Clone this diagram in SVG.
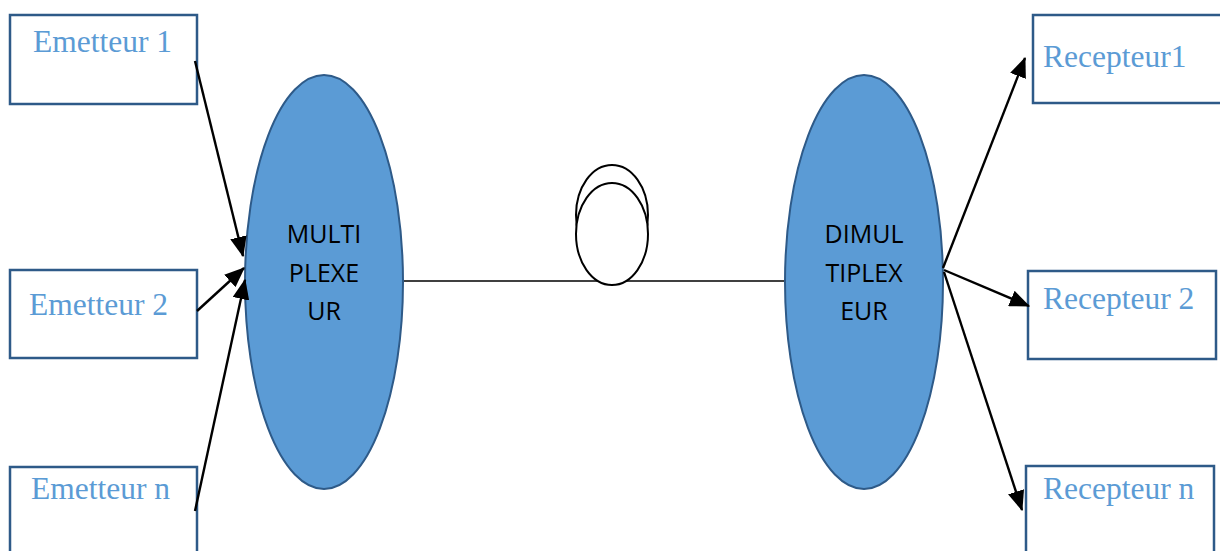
<svg xmlns="http://www.w3.org/2000/svg" width="1220" height="551" viewBox="0 0 1220 551">
  <style>
    .box { fill: #ffffff; stroke: #2E5A88; stroke-width: 2.5; }
    .lbl { font-family: "Liberation Serif", serif; font-size: 31.5px; fill: #5B9BD5; }
    .mux { fill: #5B9BD5; stroke: #2E5A88; stroke-width: 2; }
    .mtxt { font-family: "Open Sans", "Noto Sans", sans-serif; font-size: 25px; fill: #000000; text-anchor: middle; }
    .arr { stroke: #000000; stroke-width: 2.4; fill: none; marker-end: url(#ah); }
    .loop { fill: #ffffff; stroke: #000000; stroke-width: 2; }
  </style>
  <defs>
    <marker id="ah" markerWidth="8.5" markerHeight="7" refX="8" refY="3.5" orient="auto" markerUnits="strokeWidth">
      <path d="M0,0 L8.5,3.5 L0,7 Z" fill="#000000"/>
    </marker>
  </defs>
  <rect width="1220" height="551" fill="#ffffff"/>

  <!-- transmitters -->
  <g id="emetteur1">
    <rect class="box" x="10" y="15" width="187" height="89"/>
    <text class="lbl" x="33" y="52">Emetteur 1</text>
  </g>
  <g id="emetteur2">
    <rect class="box" x="10" y="270" width="187" height="88"/>
    <text class="lbl" x="29" y="315">Emetteur 2</text>
  </g>
  <g id="emetteurn">
    <rect class="box" x="10" y="467" width="187" height="100"/>
    <text class="lbl" x="31" y="499">Emetteur n</text>
  </g>

  <!-- fibre link with coiled loops -->
  <g id="fibre">
    <line x1="403" y1="281" x2="785" y2="281" stroke="#000000" stroke-width="1.5"/>
    <ellipse class="loop" cx="612" cy="215" rx="36" ry="50"/>
    <ellipse class="loop" cx="612" cy="234" rx="36" ry="51"/>
  </g>

  <!-- multiplexer -->
  <g id="multiplexeur">
    <ellipse class="mux" cx="324" cy="282" rx="79" ry="207"/>
    <text class="mtxt" x="324" y="243">MULTI</text>
    <text class="mtxt" x="324" y="282">PLEXE</text>
    <text class="mtxt" x="324" y="320">UR</text>
  </g>

  <!-- demultiplexer -->
  <g id="dimultiplexeur">
    <ellipse class="mux" cx="864" cy="282" rx="79" ry="207"/>
    <text class="mtxt" x="864" y="243">DIMUL</text>
    <text class="mtxt" x="864" y="282">TIPLEX</text>
    <text class="mtxt" x="864" y="320">EUR</text>
  </g>

  <!-- receivers -->
  <g id="recepteur1">
    <rect class="box" x="1033" y="15" width="190" height="88"/>
    <text class="lbl" x="1043" y="67">Recepteur1</text>
  </g>
  <g id="recepteur2">
    <rect class="box" x="1028" y="271" width="188" height="88"/>
    <text class="lbl" x="1043" y="309">Recepteur 2</text>
  </g>
  <g id="recepteurn">
    <rect class="box" x="1026" y="466" width="188" height="100"/>
    <text class="lbl" x="1043" y="499">Recepteur n</text>
  </g>

  <!-- connectors -->
  <g id="connectors">
    <line class="arr" x1="195" y1="61" x2="243" y2="256"/>
    <line class="arr" x1="197" y1="311" x2="244" y2="268"/>
    <line class="arr" x1="195" y1="511" x2="245" y2="280"/>
    <line class="arr" x1="943" y1="268" x2="1025" y2="58"/>
    <line class="arr" x1="944" y1="270" x2="1029" y2="306"/>
    <line class="arr" x1="944" y1="272" x2="1022" y2="510"/>
  </g>
</svg>
